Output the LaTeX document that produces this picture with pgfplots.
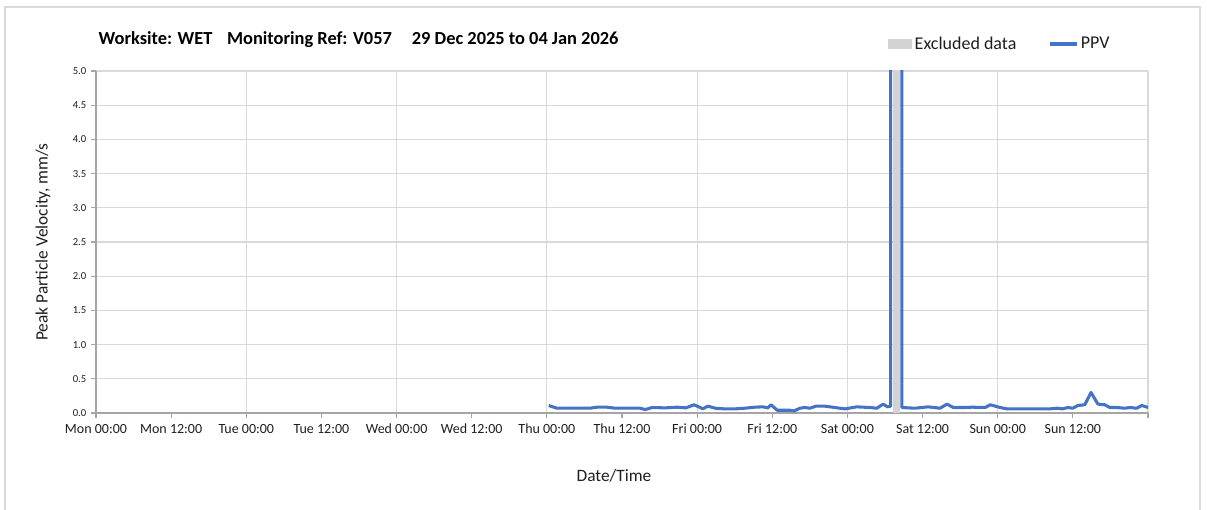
\documentclass[border=0pt]{standalone}
\usepackage{fontspec}
\setmainfont{Carlito}
\usepackage{pgfplots}
\pgfplotsset{compat=1.18}

\definecolor{ppvblue}{RGB}{68,114,196}
\definecolor{gridgrey}{RGB}{217,217,217}
\definecolor{exclgrey}{RGB}{211,211,211}
\definecolor{axisgrey}{RGB}{165,165,165}
\definecolor{txt}{RGB}{30,30,30}

\begin{document}
\begin{tikzpicture}
% page = 1207 x 510 px, 1 px = 0.75pt
\useasboundingbox (0,0) rectangle (905.25pt,382.5pt);
\draw[gridgrey, line width=0.8pt] (3.75pt,0pt) -- (3.75pt,377.25pt) -- (900pt,377.25pt) -- (900pt,0pt);

\node[anchor=west, font=\bfseries\fontsize{13.8}{16}\selectfont, text=black] at (70.5pt,352.5pt)
  {Worksite: WET\hspace{11pt}Monitoring Ref: V057\hspace{15pt}29 Dec 2025 to 04 Jan 2026};

\begin{axis}[
  at={(72pt,72.75pt)}, anchor=south west,
  scale only axis, width=789pt, height=256.5pt,
  xmin=0, xmax=168, ymin=0, ymax=5,
  axis lines*=left,
  axis line style={axisgrey, line width=0.8pt},
  xtick={0,24,...,168},
  xticklabels={Mon 00:00,Tue 00:00,Wed 00:00,Thu 00:00,Fri 00:00,Sat 00:00,Sun 00:00,{}},
  extra x ticks={12,36,60,84,108,132,156},
  extra x tick labels={Mon 12:00,Tue 12:00,Wed 12:00,Thu 12:00,Fri 12:00,Sat 12:00,Sun 12:00},
  extra x tick style={grid=none},
  ytick={0,0.5,...,5},
  yticklabels={0.0,0.5,1.0,1.5,2.0,2.5,3.0,3.5,4.0,4.5,5.0},
  xmajorgrids, ymajorgrids,
  grid style={gridgrey, line width=0.8pt},
  tick align=outside, major tick length=3.75pt,
  tick style={axisgrey, line width=0.8pt},
  xtick pos=lower, ytick pos=left,
  x tick label style={font=\fontsize{10.5}{12}\selectfont, text=txt, yshift=-1pt},
  y tick label style={font=\fontsize{8}{9}\selectfont, text=txt},
  xlabel={Date/Time},
  ylabel={Peak Particle Velocity, mm/s},
  label style={font=\fontsize{13}{15}\selectfont, text=txt},
  xlabel style={yshift=-12pt, xshift=-6pt},
  ylabel style={yshift=10pt},
  legend style={draw=none, fill=none, legend columns=2,
    at={(axis description cs:0.97,1.079)}, anchor=east,
    font=\fontsize{13.5}{15}\selectfont, text=txt,
    /tikz/every even column/.append style={column sep=22pt}},
]
\addplot[draw=none, fill=exclgrey,
  legend image code/.code={\fill[exclgrey] (0pt,-3.75pt) rectangle (18pt,3.75pt);}]
  coordinates {(127.3,5) (128.4,5)} \closedcycle;
\addlegendentry{Excluded data}

\addplot[ppvblue, line width=2.3pt, line join=round,
  legend image code/.code={\draw[ppvblue, line width=2.3pt] (0pt,0pt) -- (20pt,0pt);}]
  coordinates {
  (72.3,0.11) (73.6,0.07) (76.5,0.07) (78.9,0.07) (80.0,0.085) (81.6,0.085)
  (82.9,0.07) (86.9,0.07) (87.7,0.05) (88.8,0.08) (90.9,0.075) (92.8,0.085)
  (94.2,0.075) (95.5,0.12) (96.5,0.08) (96.9,0.06) (97.7,0.10) (98.9,0.07)
  (100.4,0.06) (102.0,0.06) (103.6,0.07) (105.2,0.085) (106.5,0.09) (107.3,0.075)
  (107.8,0.12) (108.8,0.04) (110.8,0.04) (111.5,0.03) (112.4,0.07) (113.2,0.08)
  (114.0,0.07) (115.0,0.10) (116.4,0.10) (118.0,0.08) (119.6,0.06) (121.5,0.09)
  (123.6,0.08) (124.7,0.07) (125.7,0.13) (126.4,0.09) (126.9,0.10)
  (126.9,20) (128.7,20)
  (128.7,0.08) (130.8,0.07) (132.9,0.09) (134.8,0.07) (135.9,0.13) (136.9,0.08)
  (138.8,0.08) (139.9,0.085) (142.0,0.08) (142.8,0.12) (144.4,0.08) (145.5,0.06)
  (152.3,0.06) (153.5,0.07) (154.3,0.06) (155.2,0.08) (156.0,0.07) (156.8,0.11)
  (157.9,0.12) (158.9,0.30) (160.0,0.13) (161.1,0.12) (161.9,0.08) (163.0,0.08)
  (164.3,0.07) (165.1,0.08) (166.2,0.07) (167.0,0.11) (168.0,0.08)
  };
\addlegendentry{PPV}
\end{axis}
\end{tikzpicture}
\end{document}
